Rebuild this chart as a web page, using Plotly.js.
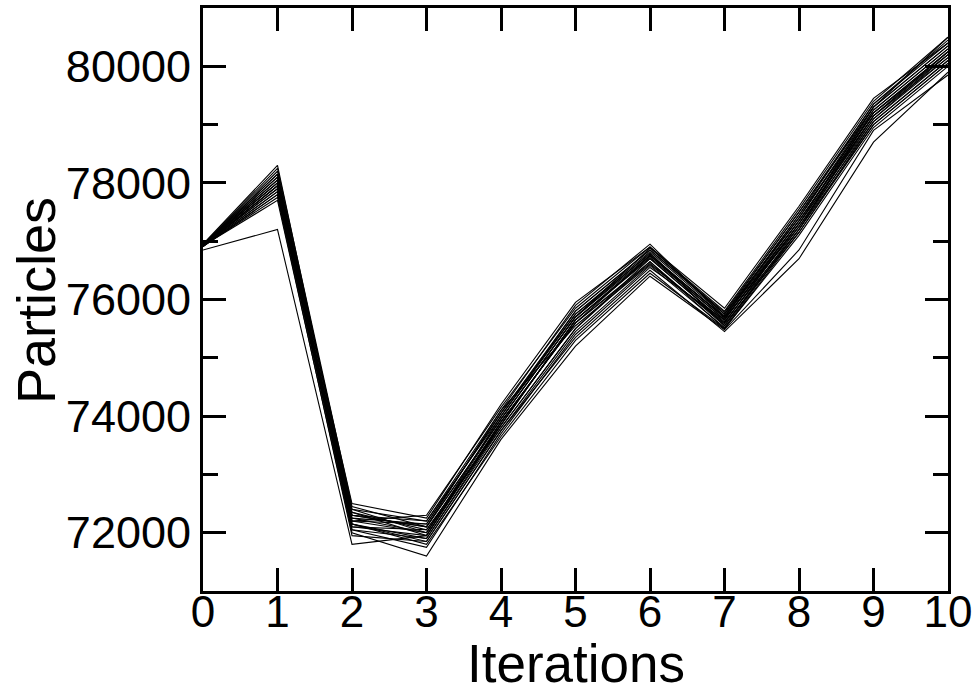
<!DOCTYPE html>
<html>
<head>
<meta charset="utf-8">
<script src="https://cdn.plot.ly/plotly-3.0.1.min.js"></script>
<style>html,body{margin:0;padding:0;background:#fff;}#chart{width:979px;height:692px;}</style>
</head>
<body>
<div id="chart"></div>
<script>
const iterations = [0,1,2,3,4,5,6,7,8,9,10];
const xTickLabels = ["0","1","2","3","4","5","6","7","8","9","10"];
const yTickValues = [72000,74000,76000,78000,80000];
const yTickLabels = ["72000","74000","76000","78000","80000"];
const xTitle = "Iterations";
const yTitle = "Particles";

const run01 = [76950,78300,72300,72100,74100,75900,76950,75700,77400,79300,80500];
const run02 = [76930,78050,72500,72250,74200,75950,76900,75850,77600,79450,80400];
const run03 = [76920,77950,72150,71900,73800,75500,76700,75600,77300,79100,80200];
const run04 = [76940,78200,72400,72000,73950,75700,76800,75550,77200,79250,80300];
const run05 = [76910,77800,72050,71750,73700,75400,76550,75650,77350,79150,80150];
const run06 = [76935,78100,72200,72150,74050,75800,76850,75750,77500,79350,80450];
const run07 = [76925,77900,72350,71950,73900,75600,76650,75500,77150,79000,80050];
const run08 = [76945,78150,72100,72050,73850,75650,76750,75700,77450,79200,80250];
const run09 = [76915,77750,71950,71850,73750,75350,76500,75450,76700,78700,79900];
const run10 = [76930,78000,72250,72000,74000,75750,76780,75680,77250,79050,80100];
const run11 = [76920,77850,72300,72200,74100,75550,76600,75600,77300,79300,80350];
const run12 = [76940,78250,72450,72100,73950,75700,76880,75800,77550,79400,80500];
const run13 = [76910,77950,72150,71800,73650,75300,76450,75500,77100,78950,80000];
const run14 = [76935,78050,72200,72300,74150,75850,76900,75750,77400,79250,80300];
const run15 = [76925,77900,72050,71900,73850,75650,76700,75620,77200,79100,80150];
const run16 = [76850,77200,71800,71950,73900,75600,76750,75650,77350,79200,80250];
const run17 = [76945,78100,72350,72050,73800,75500,76650,75550,77250,79150,80200];
const run18 = [76920,77700,72000,71600,73600,75200,76400,75480,76850,78900,79850];
const run19 = [76930,78000,72250,72150,74050,75750,76820,75720,77450,79350,80400];
const run20 = [76915,77850,72100,71950,73900,75600,76620,75580,77150,79050,80100];
const run21 = [76940,78150,72400,72200,74000,75800,76850,75780,77500,79300,80350];
const run22 = [76925,77950,72200,72000,73850,75650,76720,75660,77300,79150,80250];
const run23 = [76935,78000,72300,72100,73950,75700,76760,75700,77350,79200,80200];
const run24 = [76910,77800,72150,71850,73750,75450,76580,75520,77200,79000,80050];

const runs = [run01,run02,run03,run04,run05,run06,run07,run08,run09,run10,run11,run12,
              run13,run14,run15,run16,run17,run18,run19,run20,run21,run22,run23,run24];

const traces = runs.map(r => ({
  x: iterations, y: r, type: 'scatter', mode: 'lines',
  line: {color: '#000', width: 1.1}, hoverinfo: 'skip', showlegend: false
}));

const font = {family: 'Liberation Sans, Arial, Helvetica, sans-serif', color: '#000'};

const layout = {
  width: 979, height: 692,
  margin: {l: 203, r: 31, t: 8, b: 101, pad: 0},
  paper_bgcolor: '#fff', plot_bgcolor: '#fff',
  showlegend: false,
  xaxis: {
    range: [0, 10], tickmode: 'array', tickvals: iterations, ticktext: xTickLabels,
    ticks: 'inside', ticklen: 23, tickwidth: 3, tickcolor: '#000',
    showline: true, linewidth: 3, linecolor: '#000', mirror: 'ticks',
    showgrid: false, zeroline: false,
    ticklabelstandoff: -20,
    tickfont: Object.assign({size: 44}, font),
    automargin: false
  },
  yaxis: {
    range: [71000, 81000], tickmode: 'array', tickvals: yTickValues, ticktext: yTickLabels,
    ticks: 'inside', ticklen: 23, tickwidth: 3, tickcolor: '#000',
    minor: {dtick: 1000, ticks: 'inside', ticklen: 15, tickwidth: 3, tickcolor: '#000', showgrid: false},
    showline: true, linewidth: 3, linecolor: '#000', mirror: 'ticks',
    showgrid: false, zeroline: false,
    tickfont: Object.assign({size: 45}, font),
    automargin: false
  },
  annotations: [
    {text: xTitle, xref: 'paper', yref: 'paper', x: 0.5, y: -0.1235,
     xanchor: 'center', yanchor: 'middle', showarrow: false,
     font: Object.assign({size: 53}, font)},
    {text: yTitle, xref: 'paper', yref: 'paper', x: -0.2242, y: 0.4991,
     xanchor: 'center', yanchor: 'middle', showarrow: false, textangle: -90,
     font: Object.assign({size: 54}, font)}
  ]
};

Plotly.newPlot('chart', traces, layout, {staticPlot: true, displayModeBar: false});
</script>
</body>
</html>
